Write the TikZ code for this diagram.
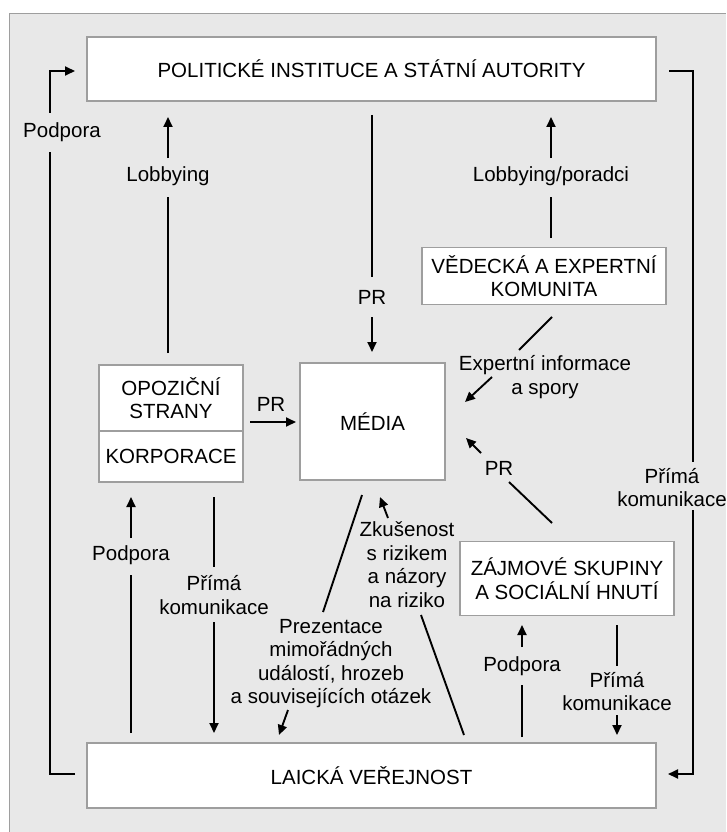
\documentclass[tikz,border=0pt]{standalone}
\usepackage{fontspec}
\setmainfont{Liberation Sans}
\usetikzlibrary{arrows.meta}
\definecolor{panel}{gray}{0.91}
\definecolor{rim}{gray}{0.62}
\newcommand{\lblfont}{\fontsize{20.5}{23.5}\selectfont}

\begin{document}
\begin{tikzpicture}[x=1pt,y=-1pt,
  box/.style={draw=rim,line width=1.2pt,fill=white,inner sep=0pt,font=\lblfont,align=center,text=black},
  lbl/.style={font=\lblfont,align=center,inner sep=0pt,text=black},
  ln/.style={line width=1.9pt},
  arr/.style={line width=1.9pt,-{Triangle[length=10pt,width=9pt]}}]
\useasboundingbox (0,0) rectangle (726,832);
\fill[panel] (9.5,13.5) rectangle (726,832);
\draw[rim,line width=1.2pt] (9.5,832)--(9.5,13.5)--(726,13.5);

% boxes
\node[box,minimum width=569pt,minimum height=64pt] (pol) at (371.5,69) {POLITICKÉ INSTITUCE A STÁTNÍ AUTORITY};
\node[box,minimum width=244pt,minimum height=57pt] (ved) at (544,276) {VĚDECKÁ A EXPERTNÍ\\KOMUNITA};
\node[box,minimum width=144pt,minimum height=66pt] (opo) at (171,398) {OPOZIČNÍ\\STRANY};
\node[box,minimum width=144pt,minimum height=51pt] (kor) at (171,456.5) {KORPORACE};
\node[box,minimum width=145pt,minimum height=117pt] (med) at (372.5,421.5) {MÉDIA};
\node[box,minimum width=214pt,minimum height=74pt] (zaj) at (567,578.5) {ZÁJMOVÉ SKUPINY\\A SOCIÁLNÍ HNUTÍ};
\node[box,minimum width=569pt,minimum height=65pt] (lai) at (371.5,775.5) {LAICKÁ VEŘEJNOST};

% connector ends
\coordinate (p1) at (75,774);  \coordinate (p2) at (50,774);  \coordinate (p3) at (50,152);
\coordinate (p4) at (50,113);  \coordinate (p5) at (50,71);   \coordinate (p6) at (75,71);
\coordinate (q1) at (669,71);  \coordinate (q2) at (693,71);  \coordinate (q3) at (693,462);
\coordinate (q4) at (693,510); \coordinate (q5) at (693,774); \coordinate (q6) at (668,774);
\coordinate (a1) at (168,353); \coordinate (a2) at (168,197); \coordinate (a3) at (168,158); \coordinate (a4) at (168,117);
\coordinate (b1) at (551,238); \coordinate (b2) at (551,197); \coordinate (b3) at (551,158); \coordinate (b4) at (551,117);
\coordinate (c1) at (372,115); \coordinate (c2) at (372,277); \coordinate (c3) at (372,317); \coordinate (c4) at (372,352);
\coordinate (d1) at (552,317); \coordinate (d2) at (519,350); \coordinate (d3) at (492,377); \coordinate (d4) at (465,402);
\coordinate (e1) at (250,422); \coordinate (e2) at (296,422);
\coordinate (f1) at (552,523); \coordinate (f2) at (509,482); \coordinate (f3) at (481,453); \coordinate (f4) at (466,438);
\coordinate (g1) at (131,733); \coordinate (g2) at (131,575); \coordinate (g3) at (131,538); \coordinate (g4) at (131,497);
\coordinate (h1) at (214,497); \coordinate (h2) at (214,567); \coordinate (h3) at (214,622); \coordinate (h4) at (214,733);
\coordinate (k1) at (388,518); \coordinate (k2) at (380,497); \coordinate (k3) at (421,615); \coordinate (k4) at (464,735);
\coordinate (m1) at (362,495); \coordinate (m2) at (323,612); \coordinate (m3) at (288,710); \coordinate (m4) at (279,735);
\coordinate (n1) at (522,737); \coordinate (n2) at (522,685); \coordinate (n3) at (522,647); \coordinate (n4) at (522,625);
\coordinate (r1) at (617,625); \coordinate (r2) at (617,666); \coordinate (r3) at (617,715); \coordinate (r4) at (617,735);

% connectors
\draw[ln] (p1)--(p2)--(p3);
\draw[arr] (p4)--(p5)--(p6);
\draw[ln] (q1)--(q2)--(q3);
\draw[arr] (q4)--(q5)--(q6);
\foreach \u/\v in {a1/a2,b1/b2,c1/c2,d1/d2,f1/f2,g1/g2,h1/h2,k3/k4,m1/m2,n1/n2,r1/r2}{
\draw[ln] (\u)--(\v);
}
\foreach \u/\v in {a3/a4,b3/b4,c3/c4,d3/d4,e1/e2,f3/f4,g3/g4,h3/h4,k1/k2,m3/m4,n3/n4,r3/r4}{
\draw[arr] (\u)--(\v);
}

% labels
\node[lbl] (t1) at (62,132) {Podpora};
\node[lbl] (t2) at (672,487.5) {Přímá\\komunikace};
\node[lbl] (t3) at (168,176) {Lobbying};
\node[lbl] (t4) at (551,176) {Lobbying/poradci};
\node[lbl] (t5) at (372,297) {PR};
\node[lbl] (t6) at (545,377) {Expertní informace\\a spory};
\node[lbl] (t7) at (271,404) {PR};
\node[lbl] (t8) at (499,468) {PR};
\node[lbl] (t9) at (131,555) {Podpora};
\node[lbl] (t10) at (214,595) {Přímá\\komunikace};
\node[lbl] (t11) at (407,564.5) {Zkušenost\\s rizikem\\a názory\\na riziko};
\node[lbl] (t12) at (331,663.5) {Prezentace\\mimořádných\\událostí, hrozeb\\a souvisejících otázek};
\node[lbl] (t13) at (522,666) {Podpora};
\node[lbl] (t14) at (617,691.5) {Přímá\\komunikace};
\end{tikzpicture}
\end{document}
